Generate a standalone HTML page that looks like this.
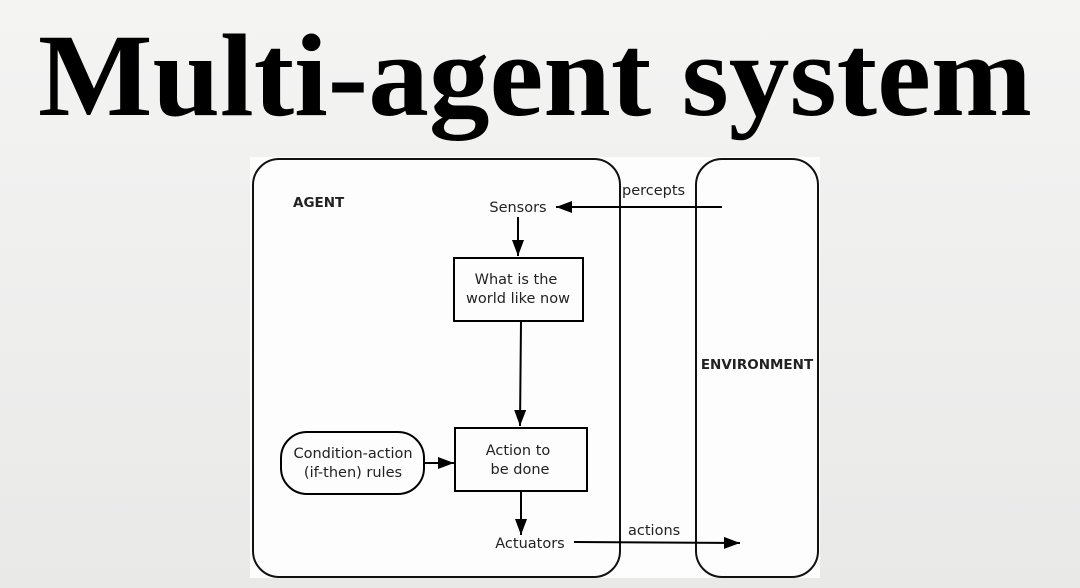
<!DOCTYPE html>
<html><head><style>
html,body{margin:0;padding:0;width:1080px;height:588px;overflow:hidden;background:linear-gradient(#f4f4f3,#e9e9e8);}
svg{display:block}
</style></head><body>
<svg width="1080" height="588" viewBox="0 0 1080 588" xmlns="http://www.w3.org/2000/svg">
<defs>
<marker id="b" markerWidth="16" markerHeight="12" refX="16" refY="6" orient="auto" markerUnits="userSpaceOnUse"><path d="M0,0 L16,6 L0,12 z" fill="#000"/></marker></defs>
<text x="38" y="115" textLength="994" lengthAdjust="spacingAndGlyphs" font-family="Liberation Serif, serif" font-weight="bold" font-size="118" fill="#000">Multi-agent system</text>
<rect x="250" y="157" width="570" height="421" fill="#fdfdfd"/>
<rect x="253" y="159" width="367" height="418" rx="26" fill="none" stroke="#111" stroke-width="2"/>
<rect x="696" y="159" width="122" height="418" rx="26" fill="none" stroke="#111" stroke-width="2"/>
<g stroke="#000" stroke-width="2" fill="none">
<rect x="454" y="258" width="129" height="63" fill="#fdfdfd"/>
<rect x="455" y="428" width="132" height="63" fill="#fdfdfd"/>
<rect x="281" y="432" width="143" height="62" rx="26" fill="#fdfdfd"/>
<line x1="722" y1="207" x2="556" y2="207" marker-end="url(#b)"/>
<line x1="518" y1="217" x2="518" y2="256" marker-end="url(#b)"/>
<line x1="521" y1="321" x2="520" y2="426" marker-end="url(#b)"/>
<line x1="424" y1="463" x2="454" y2="463" marker-end="url(#b)"/>
<line x1="521" y1="491" x2="521" y2="535" marker-end="url(#b)"/>
<line x1="574" y1="542" x2="740" y2="543" marker-end="url(#b)"/>
</g>
<g font-family="DejaVu Sans, sans-serif" font-size="14.5" fill="#222">
<text x="293" y="207" font-weight="bold" font-size="13.5">AGENT</text>
<text x="518" y="212" text-anchor="middle">Sensors</text>
<text x="622" y="195">percepts</text>
<text x="757" y="369" text-anchor="middle" font-weight="bold" font-size="13.5">ENVIRONMENT</text>
<text x="516" y="284" text-anchor="middle">What is the</text>
<text x="518" y="303" text-anchor="middle">world like now</text>
<text x="518" y="455" text-anchor="middle">Action to</text>
<text x="520" y="474" text-anchor="middle">be done</text>
<text x="353" y="458" text-anchor="middle">Condition-action</text>
<text x="353" y="477" text-anchor="middle">(if-then) rules</text>
<text x="530" y="548" text-anchor="middle">Actuators</text>
<text x="628" y="535">actions</text>
</g>
</svg>
</body></html>
